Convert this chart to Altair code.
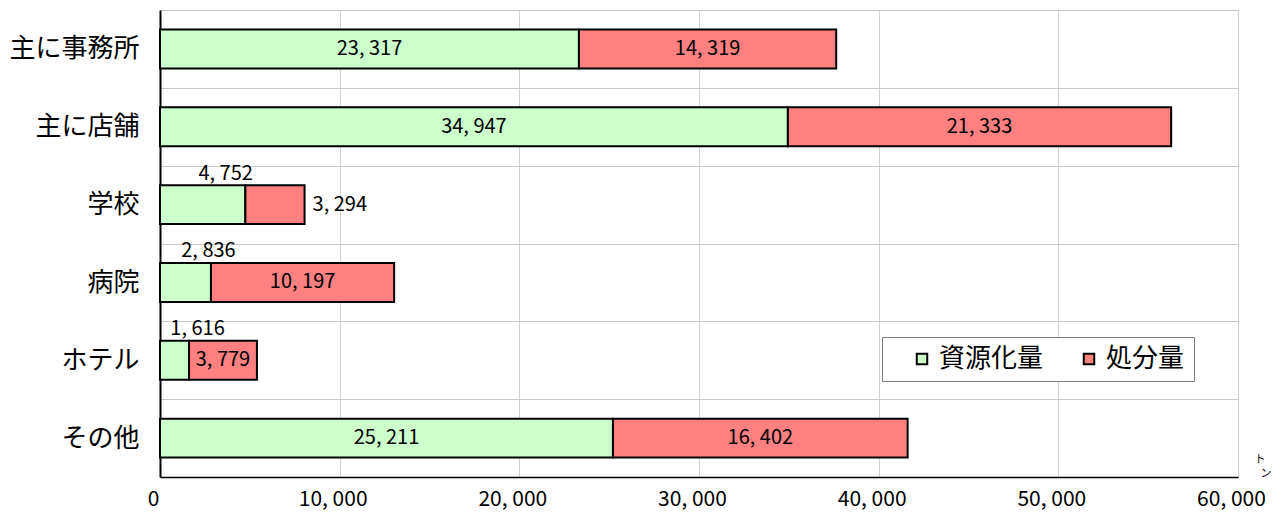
import altair as alt
import pandas as pd

categories = ["主に事務所", "主に店舗", "学校", "病院", "ホテル", "その他"]
series = ["資源化量", "処分量"]
recycled = [23317, 34947, 4752, 2836, 1616, 25211]
disposed = [14319, 21333, 3294, 10197, 3779, 16402]
x_ticks = [0, 10000, 20000, 30000, 40000, 50000, 60000]
colors = ["#CCFFCC", "#FF8080"]
unit_chars = ["ト", "ン"]

# label placement per segment (style annotation)
placement_recycled = ["inside", "inside", "above", "above", "above", "inside"]
placement_disposed = ["inside", "inside", "right", "inside", "inside", "inside"]

rows = []
for i, c in enumerate(categories):
    rows.append({"category": c, "series": series[0], "idx": 0, "value": recycled[i], "place": placement_recycled[i]})
    rows.append({"category": c, "series": series[1], "idx": 1, "value": disposed[i], "place": placement_disposed[i]})
df = pd.DataFrame(rows)

W, H = 1078, 467
step = H / len(categories)
FONT = "Noto Sans CJK JP"

y_enc = alt.Y(
    "category:N",
    sort=categories,
    scale=alt.Scale(paddingInner=0.5, paddingOuter=0.25),
    axis=alt.Axis(
        title=None, labelFontSize=26, labelColor="black", labelPadding=21,
        ticks=False, domainColor="black", domainWidth=2,
        grid=True, gridColor="#C8C8C8", gridWidth=1,
        tickOffset=-step / 2, labelOffset=step / 2, labelFont=FONT,
    ),
)
x_enc = alt.X(
    "sum(value):Q",
    stack="zero",
    scale=alt.Scale(domain=[0, 60000], nice=False),
    axis=alt.Axis(
        title=None, values=x_ticks, labelFontSize=21, labelColor="black",
        labelExpr="replace(format(datum.value, ','), ',', ', ')",
        labelOffset=-7, labelPadding=11, ticks=False,
        domainColor="black", domainWidth=1.5,
        grid=True, gridColor="#D0D0D0", gridWidth=1, labelFont=FONT,
        labelFlush=False,
    ),
)

base = alt.Chart(df)

bars = base.mark_bar(stroke="black", strokeWidth=2).encode(
    x=x_enc,
    y=y_enc,
    color=alt.Color(
        "series:N",
        scale=alt.Scale(domain=series, range=colors),
        legend=alt.Legend(
            title=None, orient="none", legendX=722, legendY=327, direction="horizontal",
            labelFontSize=26, labelFont=FONT, labelColor="black",
            symbolType="square", symbolSize=110, symbolStrokeColor="black",
            symbolStrokeWidth=2, fillColor="white", strokeColor="#808080",
            padding=9, columnPadding=14, symbolOffset=18, labelOffset=4,
        ),
    ),
    order=alt.Order("idx:Q", sort="ascending"),
)

stacked = base.transform_stack(
    stack="value", groupby=["category"], as_=["x0", "x1"],
    sort=[alt.SortField("idx", order="ascending")],
).transform_calculate(
    mid="(datum.x0 + datum.x1) / 2",
    label="replace(format(datum.value, ','), ',', ', ')",
)

y_txt = alt.Y("category:N", sort=categories,
              scale=alt.Scale(paddingInner=0.5, paddingOuter=0.25))

inside = stacked.transform_filter("datum.place == 'inside'").mark_text(
    fontSize=20, font=FONT, color="black", align="center", baseline="middle"
).encode(x=alt.X("mid:Q"), y=y_txt, text="label:N")

above = stacked.transform_filter("datum.place == 'above'").mark_text(
    fontSize=20, font=FONT, color="black", align="center", baseline="middle", dx=23, dy=-31
).encode(x=alt.X("mid:Q"), y=y_txt, text="label:N")

right = stacked.transform_filter("datum.place == 'right'").mark_text(
    fontSize=20, font=FONT, color="black", align="left", baseline="middle", dx=8
).encode(x=alt.X("x1:Q"), y=y_txt, text="label:N")

unit_df = pd.DataFrame({"u": unit_chars})
unit1 = alt.Chart(unit_df).transform_filter(alt.datum.u == unit_chars[0]).mark_text(
    fontSize=11, font=FONT, color="black", align="center", baseline="middle"
).encode(x=alt.value(W + 22), y=alt.value(H - 17), text="u:N")
unit2 = alt.Chart(unit_df).transform_filter(alt.datum.u == unit_chars[1]).mark_text(
    fontSize=11, font=FONT, color="black", align="center", baseline="middle"
).encode(x=alt.value(W + 28), y=alt.value(H - 3), text="u:N")

chart = alt.layer(bars, inside, above, right, unit1, unit2).properties(
    width=W, height=H,
    autosize=alt.AutoSizeParams(type="none"),
    padding={"left": 152, "top": 2, "right": 38, "bottom": 35},
).configure_view(
    fill="#FFFFCC", stroke="#808080", strokeWidth=2
).configure(font=FONT)

chart.save("out.html", embed_options={"renderer": "svg", "actions": False})
